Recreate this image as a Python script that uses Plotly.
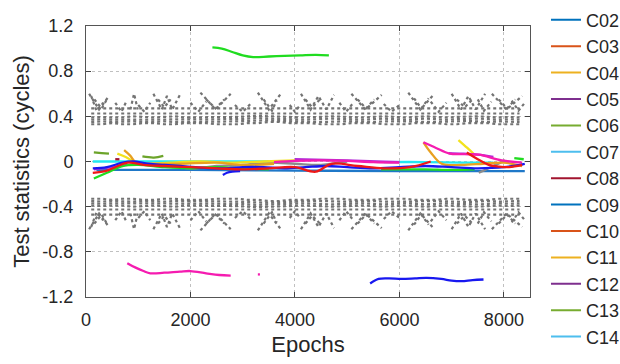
import plotly.graph_objects as go

# ---------------- data ----------------
legend_names = ["C02", "C03", "C04", "C05", "C06", "C07", "C08",
                "C09", "C10", "C11", "C12", "C13", "C14"]
legend_colors = ["#0072BD", "#D95319", "#EDB120", "#7E2F8E", "#77AC30", "#4DBEEE", "#A2142F",
                 "#0072BD", "#D95319", "#EDB120", "#7E2F8E", "#77AC30", "#4DBEEE"]

x_ticks = [0, 2000, 4000, 6000, 8000]
y_ticks = [1.2, 0.8, 0.4, 0, -0.4, -0.8, -1.2]
y_tick_text = ["1.2", "0.8", "0.4", "0", "-0.4", "-0.8", "-1.2"]

# gray threshold curves (upper side; lower side is the mirrored threshold)
thr_epochs = [100, 300, 500, 700, 900, 1100, 1300, 1500, 1700, 1900, 2100, 2300, 2500, 2700,
              2900, 3100, 3300, 3500, 3700, 3900, 4100, 4300, 4500, 4700, 4900, 5100, 5300,
              5500, 5700, 5900, 6100, 6300, 6500, 6700, 6900, 7100, 7300, 7500, 7700, 7900,
              8100, 8300]
thr_band1 = [0.33, 0.33, 0.34, 0.33, 0.33, 0.34, 0.34, 0.33, 0.33, 0.34, 0.34, 0.34, 0.33, 0.33,
             0.33, 0.34, 0.34, 0.35, 0.35, 0.34, 0.34, 0.34, 0.33, 0.33, 0.33, 0.34, 0.34,
             0.34, 0.33, 0.33, 0.33, 0.34, 0.34, 0.34, 0.33, 0.33, 0.34, 0.34, 0.34, 0.33,
             0.33, 0.33]
thr_band2 = [0.35, 0.355, 0.35, 0.355, 0.355, 0.35, 0.355, 0.355, 0.35, 0.35, 0.355, 0.355, 0.35,
             0.35, 0.355, 0.36, 0.365, 0.365, 0.36, 0.355, 0.355, 0.35, 0.35, 0.355, 0.355, 0.355,
             0.35, 0.35, 0.355, 0.355, 0.36, 0.355, 0.35, 0.35, 0.355, 0.355, 0.36, 0.355, 0.35,
             0.355, 0.355, 0.35]
thr_band3 = [0.37, 0.375, 0.37, 0.37, 0.375, 0.375, 0.37, 0.375, 0.375, 0.37, 0.37, 0.375, 0.37,
             0.37, 0.375, 0.38, 0.385, 0.38, 0.38, 0.375, 0.37, 0.37, 0.375, 0.38, 0.375, 0.37,
             0.37, 0.375, 0.38, 0.375, 0.37, 0.375, 0.38, 0.375, 0.37, 0.375, 0.38, 0.38, 0.375,
             0.37, 0.375, 0.37]
thr_band4 = [0.39, 0.395, 0.39, 0.39, 0.40, 0.395, 0.39, 0.395, 0.40, 0.39, 0.39, 0.395, 0.39,
             0.39, 0.395, 0.40, 0.405, 0.40, 0.40, 0.395, 0.39, 0.39, 0.395, 0.40, 0.395, 0.39,
             0.39, 0.395, 0.40, 0.395, 0.39, 0.395, 0.40, 0.395, 0.39, 0.395, 0.40, 0.40, 0.395,
             0.39, 0.395, 0.39]
thr_line1 = [0.425] * 42
thr_line2 = [0.47] * 42

spike_x = [60, 250, 440, None, 160, 300, 400, None,
           850, 920, 990, None,
           1290, 1450, 1550, 1650, 1810, None, 1380, 1500, 1620, None,
           2190, 2480, 2770, None, 2300, 2480, 2650, None,
           3290, 3500, 3730, None,
           4115, 4300, 4450, 4600, 4750, None, 4200, 4330, 4480, None,
           5080, 5350, 5660, None, 5200, 5360, 5520, None,
           6170, 6400, 6670, None, 6280, 6420, 6560, None,
           7000, 7180, 7320, 7460, 7640, None, 7100, 7250, 7400, None,
           7770, 8050, 8350, None, 7900, 8060, 8220]
spike_y = [0.60, 0.46, 0.58, None, 0.55, 0.47, 0.55, None,
           0.46, 0.60, 0.46, None,
           0.60, 0.46, 0.58, 0.46, 0.60, None, 0.55, 0.48, 0.55, None,
           0.61, 0.46, 0.60, None, 0.55, 0.47, 0.55, None,
           0.61, 0.46, 0.60, None,
           0.60, 0.46, 0.58, 0.46, 0.59, None, 0.55, 0.48, 0.55, None,
           0.60, 0.46, 0.59, None, 0.55, 0.47, 0.55, None,
           0.61, 0.46, 0.60, None, 0.56, 0.47, 0.56, None,
           0.60, 0.46, 0.58, 0.46, 0.60, None, 0.55, 0.48, 0.55, None,
           0.60, 0.46, 0.58, None, 0.55, 0.47, 0.55]
spike2_x = [100, 200, 330, None, 560, 680, 780, None, 1000, 1120, 1230, None,
            2000, 2150, 2300, None, 2850, 3000, 3150, None, 3400, 3560, 3650, None,
            3900, 4000, 4100, None, 4850, 4980, 5100, None, 5700, 5850, 6000, None,
            6600, 6750, 6900, None, 7500, 7620, 7760, None, 8150, 8280, 8400]
spike2_y = [0.58, 0.45, 0.52, None, 0.52, 0.44, 0.54, None, 0.50, 0.44, 0.52, None,
            0.52, 0.44, 0.53, None, 0.50, 0.44, 0.51, None, 0.55, 0.45, 0.54, None,
            0.50, 0.44, 0.50, None, 0.52, 0.44, 0.51, None, 0.51, 0.44, 0.50, None,
            0.53, 0.44, 0.52, None, 0.55, 0.45, 0.53, None, 0.54, 0.45, 0.52]

# coloured test statistics
green_top_x = [2420, 2600, 2800, 3000, 3200, 3500, 3800, 4100, 4400, 4650]
green_top_y = [1.01, 1.00, 0.97, 0.94, 0.925, 0.93, 0.935, 0.94, 0.945, 0.94]

magenta_bot_x = [790, 950, 1100, 1230, 1500, 1800, 2000, 2300, 2550, 2770]
magenta_bot_y = [-0.90, -0.94, -0.97, -0.99, -0.985, -0.975, -0.97, -0.99, -1.005, -1.01]
magenta_dot_x = [3290, 3330]
magenta_dot_y = [-1.00, -1.00]

blue_bot_x = [5440, 5600, 5800, 6040, 6300, 6520, 6800, 7000, 7190, 7400, 7610]
blue_bot_y = [-1.08, -1.04, -1.035, -1.04, -1.035, -1.03, -1.04, -1.055, -1.06, -1.05, -1.045]

cyan_x1 = [130, 1000, 2000, 3000, 3500]
cyan_y1 = [0.0, 0.0, 0.0, 0.0, 0.0]
cyan_x2 = [5700, 6500, 7200, 7800]
cyan_y2 = [-0.005, -0.005, -0.01, -0.01]

steel_x = [200, 2000, 4000, 6000, 8400]
steel_y = [-0.075, -0.075, -0.08, -0.085, -0.085]

blue_x = [130, 400, 700, 900, 1200, 1500, 1800, 2100, 2400, 2700, 3000, 3400, 3800, 4200,
          4600, 5000, 5500, 6000, 6500, 7000, 7500, 8000, 8400]
blue_y = [-0.06, -0.05, -0.01, 0.0, -0.02, -0.03, -0.04, -0.05, -0.06, -0.06, -0.05, -0.05,
          -0.06, -0.05, -0.04, -0.05, -0.06, -0.05, -0.04, -0.05, -0.06, -0.05, -0.02]
blue_hook_x = [2620, 2700, 2800, 2950]
blue_hook_y = [-0.12, -0.10, -0.09, -0.085]

red_x = [130, 400, 800, 1100, 1500, 2000, 2500, 3000, 3500, 4000, 4400, 4700, 5200, 5700,
         6200, 6600]
red_y = [-0.10, -0.08, -0.01, -0.03, -0.04, -0.05, -0.06, -0.07, -0.06, -0.05, -0.09, -0.02,
         -0.04, -0.06, -0.05, 0.0]
red2_x = [7290, 7500, 7710, 7900, 8100, 8350]
red2_y = [0.08, 0.02, -0.03, -0.045, -0.05, -0.03]

green_x = [150, 400, 700, 1000, 1500, 2000, 2500, 3000, 3500]
green_y = [-0.15, -0.10, -0.04, -0.03, -0.05, -0.06, -0.05, -0.06, -0.07]
green2_x = [5650, 6000, 6500, 7000, 7440]
green2_y = [-0.07, -0.07, -0.07, -0.075, -0.07]
green3_x = [8200, 8380]
green3_y = [0.03, 0.02]

olive1_x = [150, 300, 440]
olive1_y = [0.08, 0.075, 0.07]
olive2_x = [1080, 1300, 1480]
olive2_y = [0.045, 0.035, 0.05]

yellow_x = [600, 760, 920, 1200, 1600, 2200, 2800, 3400, 4000]
yellow_y = [0.07, 0.04, 0.0, -0.02, -0.01, 0.0, -0.01, 0.0, 0.01]
yellow2_x = [7130, 7300, 7440]
yellow2_y = [0.19, 0.12, 0.06]

orange_x = [730, 850, 960, 1300, 1800, 2500, 3000, 3600]
orange_y = [0.10, 0.05, -0.01, -0.02, -0.02, -0.01, -0.03, -0.02]
orange2_x = [6460, 6600, 6810, 7200, 7600, 8000, 8350]
orange2_y = [0.17, 0.08, -0.02, -0.03, -0.02, -0.01, -0.04]

magenta_x = [3600, 4000, 4500, 5000, 5500, 6000]
magenta_y = [-0.005, 0.005, 0.01, 0.005, -0.005, -0.01]
magenta2_x = [6460, 6700, 6960, 7250, 7520, 7960, 8350]
magenta2_y = [0.17, 0.12, 0.07, 0.065, 0.06, 0.01, -0.01]

purple_x = [150, 500, 800]
purple_y = [-0.07, -0.05, -0.03]
purple2_x = [4000, 5000, 6000]
purple2_y = [0.02, 0.01, -0.005]
purple3_x = [6940, 7200, 7500, 7800]
purple3_y = [0.075, 0.07, 0.06, 0.04]

gray_x = [1500, 2000, 2500, 3000, 3500, 4000, 4500, 5000]
gray_y = [-0.02, -0.06, -0.04, -0.03, -0.01, -0.02, -0.03, 0.0]
gray2_x = [7520, 7800, 8020]
gray2_y = [-0.10, -0.04, 0.01]

darkred_x = [560, 640]
darkred_y = [0.02, 0.02]

# ---------------- figure ----------------
fig = go.Figure()
GRAY = "#737373"

def neg(vals):
    return [None if v is None else -v for v in vals]

for band in [thr_band1, thr_band2, thr_band3, thr_band4, thr_line1, thr_line2]:
    for sign_vals in (band, neg(band)):
        fig.add_trace(go.Scatter(x=thr_epochs, y=sign_vals, mode="lines",
                                 line=dict(color=GRAY, width=2.2, dash="dot"),
                                 showlegend=False, hoverinfo="skip"))
for sxs, sys_ in ((spike_x, spike_y), (spike2_x, spike2_y)):
    for sy in (sys_, neg(sys_)):
        fig.add_trace(go.Scatter(x=sxs, y=sy, mode="lines", connectgaps=False,
                                 line=dict(color=GRAY, width=2.2, dash="dot"),
                                 showlegend=False, hoverinfo="skip"))

series = [
    (steel_x, steel_y, "#1f78c8"),
    (cyan_x1, cyan_y1, "#22e8f0"),
    (cyan_x2, cyan_y2, "#22e8f0"),
    (gray_x, gray_y, "#8c8c8c"),
    (gray2_x, gray2_y, "#8c8c8c"),
    (yellow_x, yellow_y, "#f2e21c"),
    (yellow2_x, yellow2_y, "#f2e21c"),
    (orange_x, orange_y, "#e8a020"),
    (orange2_x, orange2_y, "#e8a020"),
    (purple_x, purple_y, "#b02cd8"),
    (purple2_x, purple2_y, "#b02cd8"),
    (purple3_x, purple3_y, "#b02cd8"),
    (magenta_x, magenta_y, "#f51cb0"),
    (magenta2_x, magenta2_y, "#f51cb0"),
    (green_x, green_y, "#20dc20"),
    (green2_x, green2_y, "#20dc20"),
    (green3_x, green3_y, "#20dc20"),
    (olive1_x, olive1_y, "#6ca42a"),
    (olive2_x, olive2_y, "#6ca42a"),
    (blue_x, blue_y, "#1818f0"),
    (blue_hook_x, blue_hook_y, "#1818f0"),
    (red_x, red_y, "#ee1818"),
    (red2_x, red2_y, "#ee1818"),
    (darkred_x, darkred_y, "#a01432"),
    (green_top_x, green_top_y, "#20dc20"),
    (magenta_bot_x, magenta_bot_y, "#f51cb0"),
    (magenta_dot_x, magenta_dot_y, "#f51cb0"),
    (blue_bot_x, blue_bot_y, "#1818f0"),
]
for sx, sy, col in series:
    fig.add_trace(go.Scatter(x=sx, y=sy, mode="lines", line=dict(color=col, width=2.3, shape="spline"),
                             showlegend=False, hoverinfo="skip"))

for name, col in zip(legend_names, legend_colors):
    fig.add_trace(go.Scatter(x=[None], y=[None], mode="lines", name=name,
                             line=dict(color=col, width=2)))

FONT = "Liberation Sans, Arial, sans-serif"
fig.update_layout(
    width=620, height=364,
    margin=dict(l=86, r=90, t=26, b=67, autoexpand=False),
    paper_bgcolor="white", plot_bgcolor="white",
    font=dict(family=FONT, size=18, color="#262626"),
    legend=dict(x=1.036, xanchor="left", y=1.09, yanchor="top", maxheight=400,
                font=dict(size=18, color="#262626"), bgcolor="rgba(0,0,0,0)",
                tracegroupgap=0, itemwidth=30),
    xaxis=dict(range=[0, 8500], tickvals=x_ticks, ticktext=[str(v) for v in x_ticks],
               showgrid=True, gridcolor="#c0c0c0", griddash="dot", gridwidth=1,
               zeroline=False, showline=True, linecolor="#555", linewidth=1, mirror="ticks",
               ticks="inside", ticklen=5, tickcolor="#444", ticklabelstandoff=6,
               title=dict(text="Epochs", standoff=8)),
    yaxis=dict(range=[-1.2, 1.2], tickvals=y_ticks, ticktext=y_tick_text,
               showgrid=True, gridcolor="#c0c0c0", griddash="dot", gridwidth=1,
               zeroline=False, showline=True, linecolor="#555", linewidth=1, mirror="ticks",
               ticks="inside", ticklen=5, tickcolor="#444", ticklabelstandoff=8,
               title=dict(text="Test statistics (cycles)", standoff=6)),
)

fig.write_html("out.html")
